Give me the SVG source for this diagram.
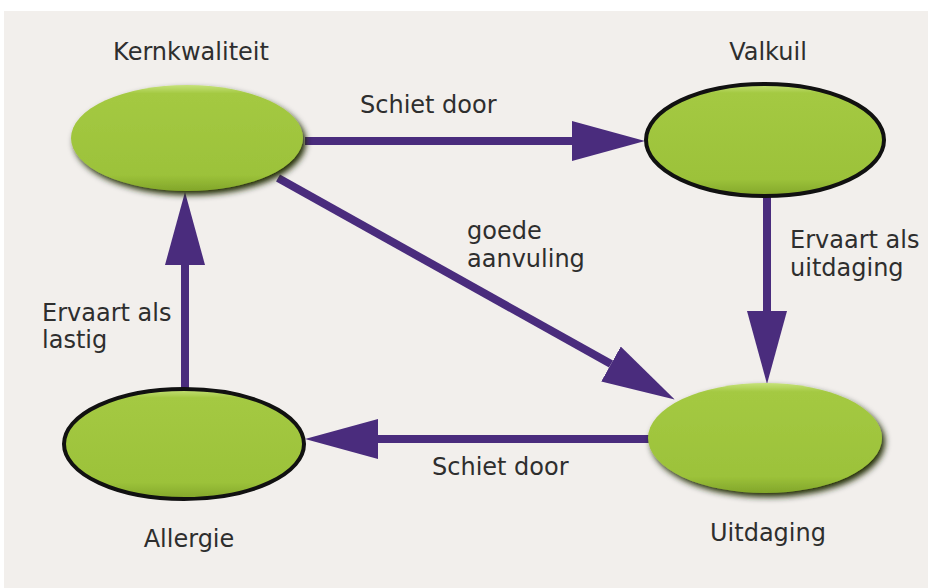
<svg xmlns="http://www.w3.org/2000/svg" width="928" height="588" viewBox="0 0 928 588">
<style>
text{font-family:"DejaVu Sans",Verdana,sans-serif;font-size:24px;fill:#2e2e2e}
.lbl{text-anchor:middle}
.edge{stroke:#4a2c7d;stroke-width:8;fill:none;marker-end:url(#ah)}
.node{fill:url(#g)}
.outl{stroke:#111;stroke-width:4}
</style>
<defs>
<linearGradient id="g" x1="0" y1="0" x2="0" y2="1">
<stop offset="0" stop-color="#c6e27a"/>
<stop offset="0.08" stop-color="#a4c942"/>
<stop offset="0.85" stop-color="#9cc23a"/>
<stop offset="1" stop-color="#82a62a"/>
</linearGradient>
<filter id="sh" x="-20%" y="-20%" width="140%" height="150%">
<feGaussianBlur in="SourceAlpha" stdDeviation="3"/>
<feOffset dx="3" dy="4" result="b"/>
<feFlood flood-color="#1e2a04"/>
<feComposite in2="b" operator="in"/>
<feMerge><feMergeNode/><feMergeNode in="SourceGraphic"/></feMerge>
</filter>
<marker id="ah" markerUnits="userSpaceOnUse" markerWidth="74" markerHeight="42" refX="0" refY="20" orient="auto">
<path d="M0,0 L73,20 L0,40 Z" fill="#4a2c7d"/>
</marker>
</defs>
<rect x="0" y="0" width="928" height="588" fill="#ffffff"/>
<rect x="4" y="11" width="924" height="577" fill="#f2efec"/>
<g id="connectors">
<line class="edge" x1="305" y1="141" x2="572" y2="141"/>
<line class="edge" x1="767" y1="197" x2="767" y2="311"/>
<line class="edge" x1="185" y1="388" x2="185" y2="265"/>
<line class="edge" x1="650" y1="439" x2="378" y2="439"/>
<line class="edge" x1="278" y1="178" x2="611" y2="364"/>
</g>
<g id="kernkwaliteit">
<ellipse class="node" cx="187" cy="138" rx="116" ry="53" filter="url(#sh)"/>
<text class="lbl" x="191" y="60">Kernkwaliteit</text>
</g>
<g id="valkuil">
<ellipse class="node outl" cx="765" cy="140" rx="119" ry="56"/>
<text class="lbl" x="768" y="60">Valkuil</text>
</g>
<g id="uitdaging">
<ellipse class="node" cx="765" cy="438" rx="117" ry="55" filter="url(#sh)"/>
<text class="lbl" x="768" y="541">Uitdaging</text>
</g>
<g id="allergie">
<ellipse class="node outl" cx="184" cy="444" rx="120" ry="55"/>
<text class="lbl" x="189" y="547">Allergie</text>
</g>
<g id="labels">
<text x="360" y="113">Schiet door</text>
<text x="432" y="475">Schiet door</text>
<text x="467" y="239">goede</text>
<text x="467" y="267">aanvuling</text>
<text x="790" y="248">Ervaart als</text>
<text x="790" y="276">uitdaging</text>
<text x="42" y="321">Ervaart als</text>
<text x="42" y="348">lastig</text>
</g>
</svg>
